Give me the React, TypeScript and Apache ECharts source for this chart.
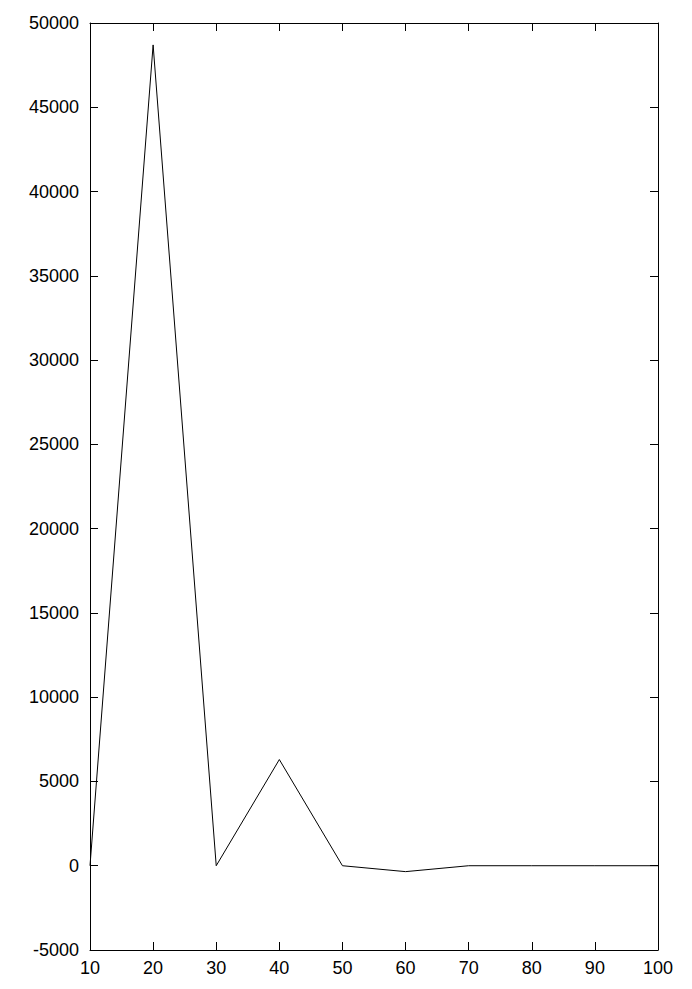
import React, { useEffect, useRef } from "react";
import * as echarts from "echarts";

const xValues = [10, 20, 30, 40, 50, 60, 70, 80, 90, 100];
const yValues = [0, 48700, 0, 6300, 0, -350, 0, 0, 0, 0];

export default function App() {
  const ref = useRef<HTMLDivElement>(null);
  useEffect(() => {
    if (!ref.current) return;
    const chart = echarts.init(ref.current, null, { renderer: "svg" });
    const font = { fontFamily: "Liberation Sans, Arial, sans-serif", fontSize: 18, color: "#000", formatter: (v: number) => String(v) };
    const axisLine = { show: true, onZero: false, lineStyle: { color: "#000", width: 1 } };
    const tick = { show: true, inside: true, length: 8, lineStyle: { color: "#000", width: 1 } };
    chart.setOption({
      animation: false,
      backgroundColor: "#fff",
      grid: { left: 90, top: 23, right: 34, bottom: 39, containLabel: false },
      xAxis: [
        {
          type: "value", min: 10, max: 100, interval: 10, position: "bottom",
          axisLine, axisTick: tick, splitLine: { show: false },
          axisLabel: { ...font, margin: 9 },
        },
        {
          type: "value", min: 10, max: 100, interval: 10, position: "top",
          axisLine, axisTick: tick, splitLine: { show: false }, axisLabel: { show: false },
        },
      ],
      yAxis: [
        {
          type: "value", min: -5000, max: 50000, interval: 5000, position: "left",
          axisLine, axisTick: tick, splitLine: { show: false },
          axisLabel: { ...font, margin: 11 },
        },
        {
          type: "value", min: -5000, max: 50000, interval: 5000, position: "right",
          axisLine, axisTick: tick, splitLine: { show: false }, axisLabel: { show: false },
        },
      ],
      series: [
        {
          type: "line",
          data: xValues.map((x, i) => [x, yValues[i]]),
          showSymbol: false,
          lineStyle: { color: "#000", width: 1 },
        },
      ],
    });
    return () => chart.dispose();
  }, []);
  return <div ref={ref} style={{ width: 692, height: 989, position: "absolute", left: 0, top: 0 }} />;
}
